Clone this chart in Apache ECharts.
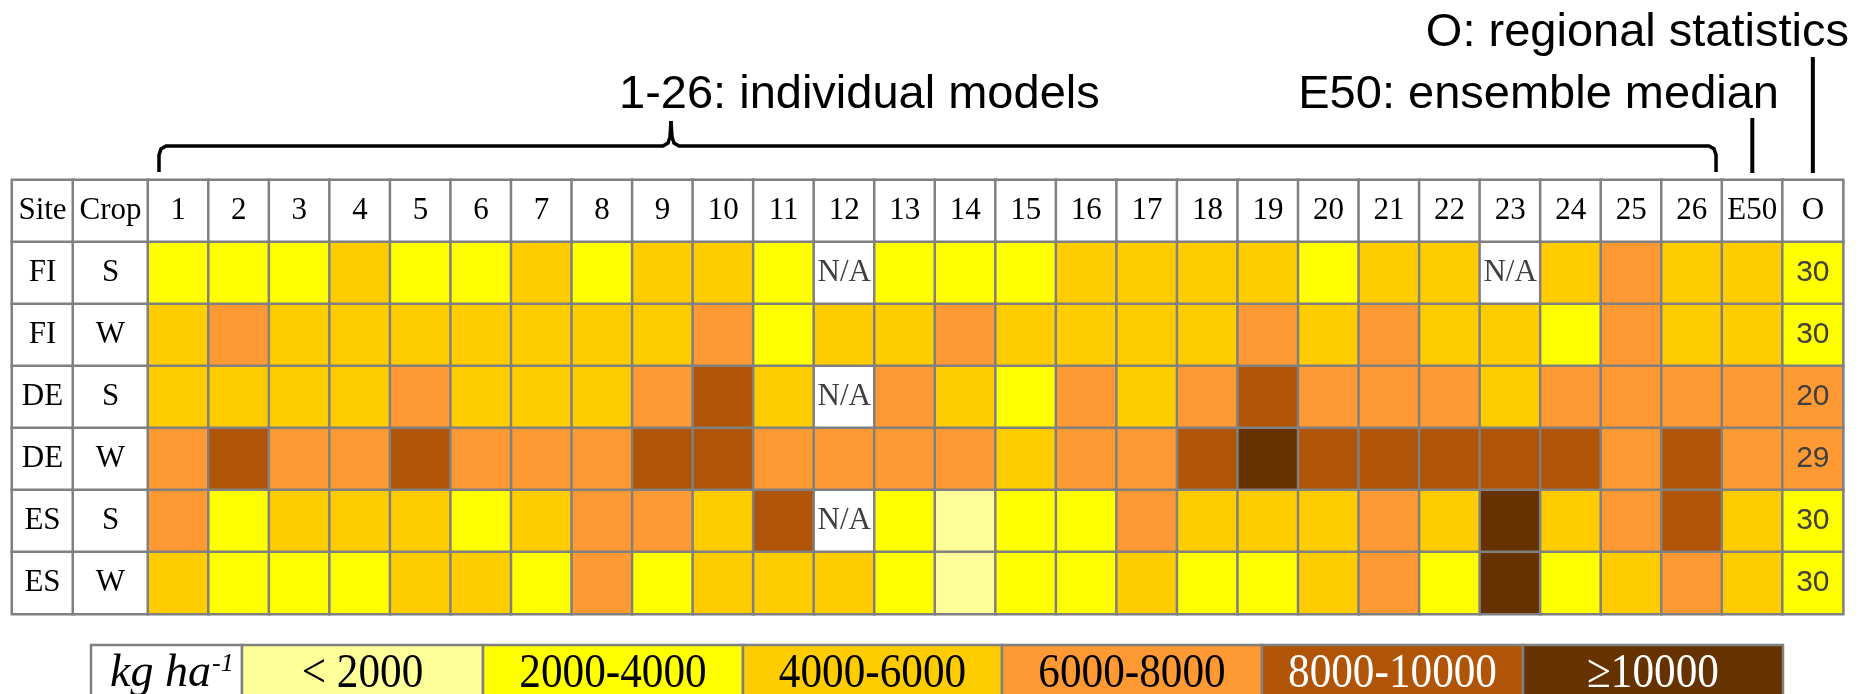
<!DOCTYPE html>
<html>
<head>
<meta charset="utf-8">
<title>Model yield classes</title>
<script src="https://cdn.jsdelivr.net/npm/echarts@6/dist/echarts.min.js"></script>
<style>
  html, body { margin: 0; padding: 0; background: #fff; }
  #chart { width: 1869px; height: 694px; }
</style>
</head>
<body>
<div id="chart"></div>
<script>
// column headers: 26 individual models, ensemble median, regional statistics
const models = ['1', '2', '3', '4', '5', '6', '7', '8', '9', '10', '11', '12', '13',
  '14', '15', '16', '17', '18', '19', '20', '21', '22', '23', '24', '25', '26', 'E50', 'O']
const sites = ['FI', 'FI', 'DE', 'DE', 'ES', 'ES']
const crops = ['S', 'W', 'S', 'W', 'S', 'W']

// yield class of each cell (index into yieldClasses), null = N/A
const fiS = [1, 1, 1, 2, 1, 1, 2, 1, 2, 2, 1, null, 1, 1, 1, 2, 2, 2, 2, 1, 2, 2, null, 2, 3, 2, 2, 1]
const fiW = [2, 3, 2, 2, 2, 2, 2, 2, 2, 3, 1, 2, 2, 3, 2, 2, 2, 2, 3, 2, 3, 2, 2, 1, 3, 2, 2, 1]
const deS = [2, 2, 2, 2, 3, 2, 2, 2, 3, 4, 2, null, 3, 2, 1, 3, 2, 3, 4, 3, 3, 3, 2, 3, 3, 3, 3, 3]
const deW = [3, 4, 3, 3, 4, 3, 3, 3, 4, 4, 3, 3, 3, 3, 2, 3, 3, 4, 5, 4, 4, 4, 4, 4, 3, 4, 3, 3]
const esS = [3, 1, 2, 2, 2, 1, 2, 3, 3, 2, 4, null, 1, 0, 1, 1, 3, 2, 2, 2, 3, 2, 5, 2, 3, 4, 2, 1]
const esW = [2, 1, 1, 1, 2, 2, 1, 3, 1, 2, 2, 2, 1, 0, 1, 1, 2, 1, 1, 2, 3, 1, 5, 1, 2, 3, 2, 1]
const tableRows = [fiS, fiW, deS, deW, esS, esW]

// number shown in the regional statistics column
const regionStats = [30, 30, 20, 29, 30, 30]

// legend classes
const yieldClasses = ['< 2000', '2000-4000', '4000-6000', '6000-8000', '8000-10000', '≥10000']

const noteModels = '1-26: individual models'
const noteE50 = 'E50: ensemble median'
const noteO = 'O: regional statistics'

// ---- styles / layout ----
const classColors = ['#FFFF99', '#FFFF00', '#FFCC00', '#FF9933', '#B05407', '#663300']
const classTextColors = ['#000', '#000', '#000', '#000', '#fff', '#fff']
const lineColor = '#808080'
const serif = 'Liberation Serif, Times New Roman, serif'
const sans = 'Liberation Sans, Arial, sans-serif'

const TOP = 180
const ROW_H = 62
const SITE_LEFT = 12
const SITE_W = 61
const CROP_W = 75
const DATA_LEFT = SITE_LEFT + SITE_W + CROP_W
const COL_W = 60.54
const rowKeys = ['head'].concat(sites.map((s, i) => s + ' ' + crops[i]))
const gridH = ROW_H * rowKeys.length

const colCenter = i => DATA_LEFT + (i + 0.5) * COL_W
const colLeft = i => DATA_LEFT + i * COL_W

const chart = echarts.init(document.getElementById('chart'))

function textColumn(title, values) {
  const data = [{ value: [0, 0, -1], text: title }]
  values.forEach((v, i) => data.push({ value: [0, i + 1, -1], text: v }))
  return data
}

function modelData() {
  const data = []
  models.forEach((m, x) => data.push({ value: [x, 0, -1], text: m }))
  tableRows.forEach((row, r) => {
    row.forEach((cls, x) => {
      const item = { value: [x, r + 1, cls === null ? -1 : cls] }
      if (cls === null) {
        item.text = 'N/A'
        item.label = { color: '#404040', fontSize: 31 }
      } else if (models[x] === 'O') {
        item.text = String(regionStats[r])
        item.label = { color: '#404040', fontFamily: sans, fontSize: 30 }
      }
      data.push(item)
    })
  })
  return data
}

function cellSeries(gridIndex, data) {
  return {
    type: 'heatmap',
    xAxisIndex: gridIndex,
    yAxisIndex: gridIndex,
    data,
    itemStyle: { borderColor: lineColor, borderWidth: 2.5 },
    label: {
      show: true,
      fontFamily: serif,
      fontSize: 31,
      color: '#000',
      formatter: p => p.data.text || ''
    },
    emphasis: { disabled: true }
  }
}

function axisPair(gridIndex, xData) {
  return {
    x: { type: 'category', gridIndex, data: xData, show: false },
    y: { type: 'category', gridIndex, data: rowKeys, inverse: true, show: false }
  }
}

const axes = [axisPair(0, ['Site']), axisPair(1, ['Crop']), axisPair(2, models)]

// legend boxes below the table
const legendEdges = [91, 242, 483, 743, 1002, 1262, 1523, 1783]
const legendTop = 645
const legendGraphics = []
legendEdges.slice(0, -1).forEach((x0, i) => {
  const x1 = legendEdges[i + 1]
  legendGraphics.push({
    type: 'rect',
    shape: { x: x0, y: legendTop, width: x1 - x0, height: 70 },
    style: { fill: i === 0 ? '#fff' : classColors[i - 1], stroke: lineColor, lineWidth: 2.5 }
  })
  if (i > 0) {
    legendGraphics.push({
      type: 'text',
      x: (x0 + x1) / 2,
      y: 674,
      scaleX: 0.94,
      scaleY: 1.04,
      style: {
        text: yieldClasses[i - 1],
        font: '46px ' + serif,
        fill: classTextColors[i - 1],
        textAlign: 'center',
        textVerticalAlign: 'middle'
      }
    })
  }
})
legendGraphics.push({
  type: 'text', x: 211, y: 674,
  style: { text: 'kg ha', font: 'italic 46px ' + serif, fill: '#000', textAlign: 'right', textVerticalAlign: 'middle' }
})
legendGraphics.push({
  type: 'text', x: 212, y: 664,
  style: { text: '-1', font: 'italic 26px ' + serif, fill: '#000', textAlign: 'left', textVerticalAlign: 'middle' }
})

// annotations above the table
const braceL = colLeft(0) + 11
const braceR = colLeft(26) - 6
const braceY = 146
const tipX = 671
const noteGraphics = [
  {
    type: 'text', x: 619, y: 95,
    style: { text: noteModels, font: '47px ' + sans, fill: '#000', textAlign: 'left', textVerticalAlign: 'middle' }
  },
  {
    type: 'text', x: 1779, y: 95,
    style: { text: noteE50, font: '47px ' + sans, fill: '#000', textAlign: 'right', textVerticalAlign: 'middle' }
  },
  {
    type: 'text', x: 1849, y: 33,
    style: { text: noteO, font: '47px ' + sans, fill: '#000', textAlign: 'right', textVerticalAlign: 'middle' }
  },
  {
    type: 'line',
    shape: { x1: colCenter(26), y1: 118, x2: colCenter(26), y2: 173 },
    style: { stroke: '#000', lineWidth: 4 }
  },
  {
    type: 'line',
    shape: { x1: colCenter(27), y1: 57, x2: colCenter(27), y2: 173 },
    style: { stroke: '#000', lineWidth: 4 }
  },
  {
    type: 'polyline',
    shape: {
      points: [[braceL, 172], [braceL, 155], [braceL + 2, 149], [braceL + 7, braceY],
        [tipX - 8, braceY], [tipX - 3, braceY - 3], [tipX - 1, braceY - 9], [tipX, 121]]
    },
    style: { stroke: '#000', lineWidth: 3.5, fill: null }
  },
  {
    type: 'polyline',
    shape: {
      points: [[tipX, 121], [tipX + 1, braceY - 9], [tipX + 3, braceY - 3], [tipX + 8, braceY],
        [braceR - 7, braceY], [braceR - 2, 149], [braceR, 155], [braceR, 172]]
    },
    style: { stroke: '#000', lineWidth: 3.5, fill: null }
  }
]

chart.setOption({
  animation: false,
  grid: [
    { left: SITE_LEFT, top: TOP, width: SITE_W, height: gridH },
    { left: SITE_LEFT + SITE_W, top: TOP, width: CROP_W, height: gridH },
    { left: DATA_LEFT, top: TOP, width: COL_W * models.length, height: gridH }
  ],
  xAxis: axes.map(a => a.x),
  yAxis: axes.map(a => a.y),
  visualMap: {
    type: 'piecewise',
    show: false,
    dimension: 2,
    seriesIndex: [0, 1, 2],
    pieces: [{ value: -1, color: '#ffffff' }].concat(classColors.map((c, i) => ({ value: i, color: c })))
  },
  series: [
    cellSeries(0, textColumn('Site', sites)),
    cellSeries(1, textColumn('Crop', crops)),
    cellSeries(2, modelData())
  ],
  graphic: noteGraphics.concat(legendGraphics)
})
</script>
</body>
</html>
